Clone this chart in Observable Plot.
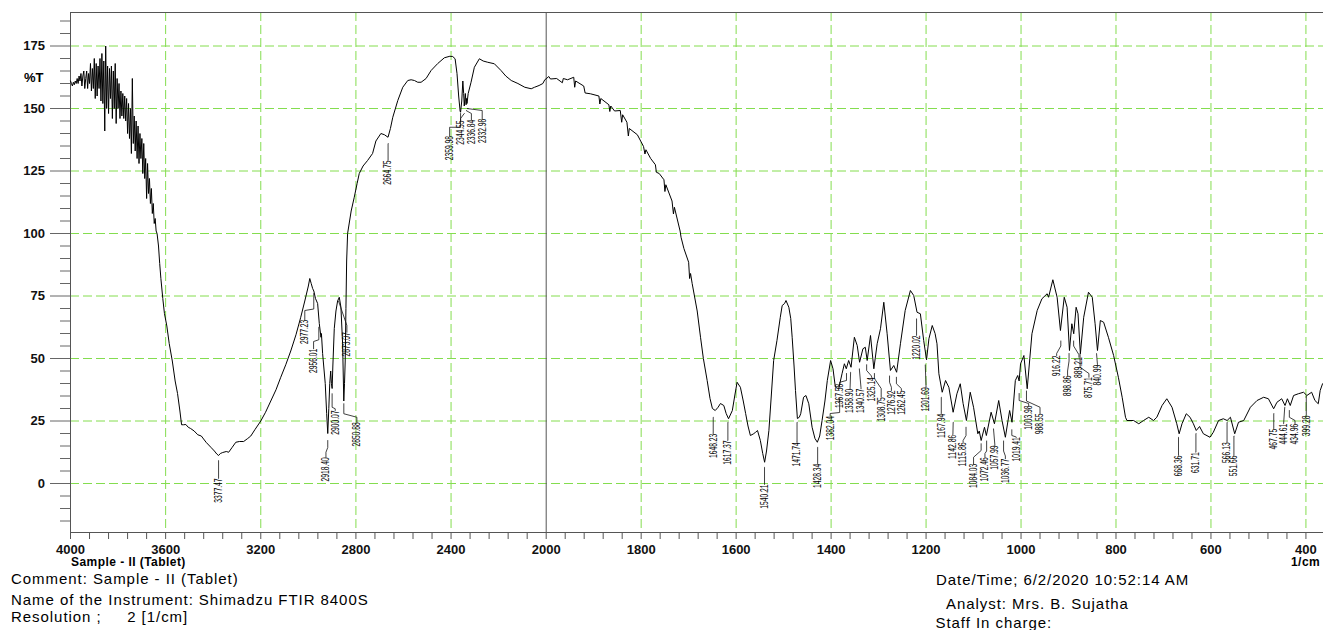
<!DOCTYPE html>
<html>
<head>
<meta charset="utf-8">
<script src="https://cdn.jsdelivr.net/npm/d3@7"></script>
<script src="https://cdn.jsdelivr.net/npm/@observablehq/plot@0.6"></script>
<style>
  html, body { margin: 0; padding: 0; background: #fff; }
  #wrap { position: relative; width: 1323px; height: 630px; overflow: hidden; font-family: "Liberation Sans", Arial, sans-serif; color: #000; }
  #wrap svg { position: absolute; left: 0; top: 0; }
  .ann { position: absolute; white-space: pre; }
  .foot { font-size: 15px; letter-spacing: 0.95px; line-height: 12px; }
  .axl { font-size: 12px; font-weight: bold; letter-spacing: 0.45px; line-height: 10px; }
</style>
</head>
<body>
<div id="wrap"></div>
<script>
// ---------------- DATA ----------------
// FTIR spectrum: wavenumber (1/cm) and transmittance (%T)
const specWn = [
  4000,3996,3992,3988,3984,3980,3976,3972,3968,3964,3960,3956,3952,3948,3944,3940,3936,3932,3928,3924,
  3920,3916,3912,3908,3904,3900,3896,3892,3888,3884,3880,3876,3872,3868,3864,3860,3856,3852,3848,3844,
  3840,3836,3832,3828,3824,3820,3816,3812,3808,3804,3800,3796,3792,3788,3784,3780,3776,3772,3768,3764,
  3760,3756,3752,3748,3744,3740,3736,3732,3728,3724,3720,3716,3712,3708,3704,3700,3696,3692,3688,3684,
  3680,3676,3672,3668,3664,3660,3656,3652,3648,3644,3640,
  3636,3630,3625,3620,3612,3605,3595,3585,3572,3560,3550,3540,3533,3525,3515,3505,3495,3480,3465,3450,
  3430,3410,3395,3385,3377.5,3370,3360,3345,3335,3320,3305,3290,3272,3255,3242,3225,3200,3180,3158,3136,
  3116,3095,3074,3052,3032,3015,3000,2994,2988,2982,2977,2970,2961,2954,2947,2945,2940,2929,2923,2918.4,
  2914,2910,2906,2903,2900,2897,2891,2884,2877,2870,2863,2856,2851,2848,2845,2842,2839,2835,2820,2807,
  2795,2786,2770,2751,2730,2716,2695,2680,2665,2655,2645,2624,2603,2582,2568,2554,2540,2526,2505,2484,
  2456,2428,2405,2393,2383,2375,2368,2362,2360,2355,2350.5,2347,2344.5,2340,2336.8,2335,2333,2328,2316,2302,
  2281,2265,2246,2218,2190,2170,2147,2119,2090,2063,2049,2030,2014,2006,
  2000,1994.5,1991,1978,1966,1964,1955,1942,1940,1938,1921,1918,1907,1889,1887,1885,1868,1866,1864,1856,
  1844,1841,1839,1830,1827,1825,1808,1795,1792,1790,1780,1770,1768,1762,1752,1750,1748,1735,1732,1730,
  1718,1716,1710,1700,1698,1696,1692.6,1682,1675,1669,1661,1655,1650,1644,1638,1633,1626,1621,1616,1608,
  1603,1598,1591,1585,1580,1575,1570,1564,1559,1555,1549,1544,1540,1536,1531,1526,1521,1514,1507,1503,
  1498,1495,1489,1485,1482,1478,1475,1471,1467,1464,1458,1453,1447,1440,1434,1429,1424,1419,1413,1408,
  1401,1396,1391,1384,1377,1372,1368,1363,1358,1351,1345,1340,1333,1328,1324,1317,1310,1303,1296,1289,
  1282,1275,1268,1262,1254,1244,1233,1226,1219,1212,1205,1199,1194,1187,1181,1177,1173,1166,1159,1152,
  1143,1135,1128,1122,1115,1107,1100,1091,1088,1084,1077,1073,1063,1056,1047,1040,1033,1024,1019,1012,
  1007,1004,1001,994,987,977,966,956,945,942,933,924,917,909,903,898,893,889,884,880,
  875,868,858,850,844,839,833,826,816,805,795,787,780,777,763,752,742,731,721,714,
  703,693,682,672,667,661,652,644,637,631,624,616,602,595,584,574,566,559,550,542,
  531,517,503,489,479,468,461,451,444,439,433,426,416,405,398,388,381,374,370,365
];
const specT = [
  161,160,159,160.5,159.5,161,160,162,160,163,161,164,159,163,165,158,162,165,158,164,
  160,168,157,166,158,170,154,168,155,167,158,170,153,172,152,169,141,175,150,167,
  148,166,154,167,146,165,150,168,144,162,150,160,146,157,147,156,146,155,145,154,
  140,152,138,150,132,162,136,147,133,145,130,143,128,140,130,138,124,136,122,130,
  114,128,116,122,112,118,108,112,104,106,101,
  100,95,88,82,74,68,63,56,49,41,36,29,23.5,23.5,23.6,22.5,22,21,19.5,19,
  16.5,14.5,13,11.8,11.2,12,12.4,12.8,12.5,14.5,16.5,16.8,16.8,18,19,21.5,25,28.5,33,37.5,
  42.5,47.5,53,59.5,66.5,73,79,82,80,78,77,74,72,64,58.5,60,52,40,28,20,
  30,40,45,40,38,47,62,69,73,74.5,70.5,56,33,40,49,70,89,100,109,114.5,
  120,124,127,129.2,132,137,140,139.5,138.5,142,146.5,153.2,158.5,161.2,161.5,161.2,160.5,160.5,162,165.2,
  168,170.3,170.9,170.8,169.9,164,155,149,148.5,153,161,156,151,156,151.5,154,152,156,160.5,166.5,
  169.9,169,168.5,167.9,165.2,163,161.2,160,158.5,157.9,158.5,159.2,160,161.5,
  161.9,162.8,161.8,162,160.3,162,161.5,162.5,158.5,161,159,156.2,155.9,155,151.8,154,151.5,148.8,151,149,
  149.2,144.5,147.5,144.5,139,142,139.5,134.8,131.8,133.5,130,127.5,124.5,124,121.5,116.8,119.5,113,107.8,110.5,
  101,98.5,94,88.5,82,84,80,69,58.5,50,41.2,34,30,29.2,30.5,32,31.2,28,25.9,29.2,
  35,40.5,38.5,33,28,23,19.2,19.8,20.5,21.2,17.2,12,8.5,13,21.2,35,49.2,57.2,66.5,71.2,
  72,73.2,70.5,66,58.5,47,37.2,26,26.5,27.9,34.5,35.2,31.9,22.5,18,16.5,19,25.2,33,41.2,
  49.2,45.9,38.5,37.9,43.9,47.9,45.9,49.2,46.5,58.5,55.2,48.5,53.9,54.5,49.2,59.2,45.9,55.9,61.9,72.5,
  59.9,45.2,47.2,44.5,55.9,69.2,77.2,75.2,68.5,67.9,57.2,49.5,57.9,63.2,60,55.9,43.9,36.5,41.2,38.5,
  28.5,35.9,39.9,32,25.2,36.5,30.5,19.9,21,17.2,22.5,19.2,28.5,23.9,33.2,25.2,18.5,29.2,24.5,41.2,
  43.2,41,47.9,51.2,37.9,59.9,69.2,73.9,75.9,74.5,81.5,74.5,61.2,74.5,70.5,53.2,63.9,59.9,70.5,67.9,
  51.9,66.5,76.5,74.5,63.9,53.2,65.2,64.5,58.5,51.2,42.5,34.5,26.5,25.2,25.2,23.9,25.2,26.5,25.2,26.5,
  31.2,33.9,30.5,23.9,19.9,23.9,27.9,26.5,23.9,21.2,22.8,19.9,18.5,20.5,25.2,25.9,25.2,26.5,19.9,24.5,
  25.2,30.5,33.2,34.5,33.9,29.9,32.5,33.9,31.2,33.9,31.2,35.2,35.9,36.5,35.2,36.5,33.2,31.9,37.2,39.9
];

// Peak annotations: peak wavenumber, label position, leader line bends, label top
const peakWn  = [3377.47,2977.23,2956.01,2918.40,2900.07,2873.07,2850.88,2664.75,2359.98,2344.55,2336.84,2332.98,
                 1648.23,1617.37,1540.21,1471.74,1428.34,1382.04,1367.58,1358.90,1340.57,1325.14,1308.75,1276.92,1262.45,
                 1220.02,1201.69,1167.94,1142.86,1115.86,1084.03,1072.46,1057.99,1036.77,1019.41,1003.98,988.55,
                 916.22,898.86,889.21,875.71,840.99,668.36,631.71,566.13,551.66,467.75,444.61,434.96,399.28];
const labelWn = [3377.47,3015,2978,2926,2887,2838,2796,2664.75,2406,2360,2314.5,2269,
                 1648.23,1617.37,1540.21,1471.74,1428.34,1402,1382,1360,1337,1315,1294.5,1273,1252,
                 1220.02,1200,1167.94,1143.5,1122,1100,1076,1055,1033,1010,984,960,
                 925,902,878,857,839,668.36,631.71,566.13,551.66,467.75,447,423,399.28];
const leadTop = [9.2,76,62.5,17.2,35.9,73,31.9,136,148,148,149.2,150,
                 26.5,24.5,6.5,24.5,14.5,34,44,44.5,45.9,47.5,44,43,42.5,
                 65.9,47.5,34.5,24.5,22.5,15.9,17,21.9,17,21.5,36,37,
                 57,52,57,51.9,52,18.5,20,24.5,19,28,30.5,29.2,35];
const bendA   = [9.2,69.8,57.5,14.4,30.5,73,27.9,136,142.5,148,149.2,150,
                 26.5,24.5,6.5,24.5,14.5,28.4,41.2,44.5,45.9,45.2,42,40.5,39.9,
                 65.9,47.5,34.5,24.5,19.2,13.2,13,21.9,13,19.2,33.2,33,
                 55,49,55,46.5,52,18.5,20,24.5,19,28,30.5,26.5,35];
const bendB   = [2,69.2,56.8,12.5,29.9,63.2,26.5,129.2,142.5,146,148,149.2,
                 19.9,17.2,-0.4,16.5,7.9,28,40.5,38.3,38.3,43,38,38.5,38,
                 59.2,38.5,27.9,19.5,17.2,10.5,12,15.2,11,18.6,32,30.5,
                 52,45,51.5,44,47.5,11.2,12.5,16.5,11.2,21.9,23.9,25.2,27.2];
const textTop = [2,65.5,53.9,10.5,29.2,60.5,24.5,129.2,139,145.2,145.5,145.9,
                 19.9,17.2,-0.4,16.5,7.9,27,39.9,37.9,37.9,42.5,34.5,37.2,37.2,
                 59.2,38.5,27.9,19.5,16.5,7.9,10.5,15.2,9.9,18.5,31.2,28,
                 51.2,43.2,50.5,42.5,47.5,11.2,12.5,16.5,11.2,21.9,23.9,23.9,27.2];

// Axis ticks
const xMajorTicks = [4000,3600,3200,2800,2400,2000,1800,1600,1400,1200,1000,800,600,400];
const xGridTicks  = [3600,3200,2800,2400,1800,1600,1400,1200,1000,800,600,400];
const xMinorTicks = d3.range(4000, 2000, -80).filter(v => v % 400 !== 0)
  .concat(d3.range(2000, 363, -40).filter(v => v % 200 !== 0));
const yMajorTicks = [0,25,50,75,100,125,150,175];
const yMinorTicks = d3.range(-15, 186, 5).filter(v => v % 25 !== 0);

const xDomain = [4000, 2000, 363];   // scale changes at 2000 1/cm
const yDomain = [-19.6, 188.4];

// ---------------- CHART ----------------
const GREEN = "#84dd4f";
const spec = specWn.map((w, i) => ({w, t: specT[i]}));
const leaders = peakWn.flatMap((p, i) => [
  {id: i, x: p, y: leadTop[i]},
  {id: i, x: p, y: bendA[i]},
  {id: i, x: labelWn[i], y: bendB[i]},
  {id: i, x: labelWn[i], y: textTop[i]}
]);
const labels = peakWn.map((p, i) => ({x: labelWn[i], y: textTop[i], text: p.toFixed(2)}));

const chart = Plot.plot({
  width: 1323,
  height: 630,
  marginTop: 12,
  marginRight: 0,
  marginBottom: 98,
  marginLeft: 70,
  style: {fontFamily: '"Liberation Sans", Arial, sans-serif', fontSize: "13px", background: "#fff", color: "#000"},
  x: {type: "linear", domain: xDomain, range: [70, 545.7, 1323]},
  y: {domain: yDomain},
  marks: [
    Plot.gridY(yMajorTicks, {stroke: GREEN, strokeOpacity: 1, strokeWidth: 1, strokeDasharray: "9,4"}),
    Plot.gridX(xGridTicks, {stroke: GREEN, strokeOpacity: 1, strokeWidth: 1, strokeDasharray: "9,4"}),
    Plot.ruleX([xDomain[0], xDomain[1]], {stroke: "#555", strokeWidth: 1}),
    Plot.ruleY([yDomain[0], yDomain[1]], {stroke: "#555", strokeWidth: 1}),
    Plot.axisY(yMinorTicks, {tickSize: 10, tickFormat: () => "", label: null, stroke: "#666"}),
    Plot.axisY(yMajorTicks, {tickSize: 20, tickPadding: 5.5, label: null, stroke: "#666", fill: "#111",
      fontWeight: "bold", fontSize: 13, tickFormat: d => String(d)}),
    Plot.axisX(xMinorTicks, {tickSize: 7, tickFormat: () => "", label: null, stroke: "#555"}),
    Plot.axisX(xMajorTicks, {tickSize: 7, tickPadding: 5, label: null, stroke: "#555", fill: "#111",
      fontWeight: "bold", fontSize: 13, tickFormat: d => String(d)}),
    Plot.line(spec, {x: "w", y: "t", stroke: "#000", strokeWidth: 1}),
    Plot.line(leaders, {x: "x", y: "y", z: "id", stroke: "#111", strokeWidth: 0.8}),
    Plot.text(labels, {x: "x", y: "y", text: "text", rotate: -90, textAnchor: "end",
      fontSize: 10.5, fontFamily: '"Liberation Sans Narrow", "Liberation Sans", Arial, sans-serif',
      fill: "#000", ariaLabel: "peak-labels"})
  ]
});

// compress the peak labels to the narrow look of the instrument print
const peakRe = /^\d{3,4}\.\d{2}$/;
chart.querySelectorAll("text").forEach(t => {
  const s = t.textContent.trim();
  if (!peakRe.test(s)) return;
  t.setAttribute("textLength", (s.length * 3.45).toFixed(1));
  t.setAttribute("lengthAdjust", "spacingAndGlyphs");
  t.querySelectorAll("tspan").forEach(ts => {
    ts.setAttribute("textLength", (s.length * 3.45).toFixed(1));
    ts.setAttribute("lengthAdjust", "spacingAndGlyphs");
  });
});

const wrap = document.getElementById("wrap");
wrap.appendChild(chart);

// ---------------- TEXT AROUND THE CHART ----------------
// y values are the tops of the text boxes
const notes = [
  {t: "%T", x: 24, y: 70.6, cls: "", style: "font-size:13px;font-weight:bold;line-height:13px;"},
  {t: "Sample - II (Tablet)", x: 71, y: 557, cls: "axl", style: ""},
  {t: "1/cm", x: 1291, y: 557, cls: "axl", style: ""},
  {t: "Comment: Sample - II (Tablet)", x: 11, y: 572.5, cls: "foot", style: ""},
  {t: "Name of the Instrument: Shimadzu FTIR 8400S", x: 11, y: 593.7, cls: "foot", style: ""},
  {t: "Resolution ;     2 [1/cm]", x: 11, y: 610.7, cls: "foot", style: ""},
  {t: "Date/Time; 6/2/2020 10:52:14 AM", x: 936, y: 574.2, cls: "foot", style: ""},
  {t: "Analyst: Mrs. B. Sujatha", x: 946, y: 597.5, cls: "foot", style: ""},
  {t: "Staff In charge:", x: 935.5, y: 617, cls: "foot", style: ""}
];
for (const n of notes) {
  const d = document.createElement("div");
  d.className = "ann " + n.cls;
  d.textContent = n.t;
  d.style.cssText += `left:${n.x}px;top:${n.y}px;` + n.style;
  wrap.appendChild(d);
}
</script>
</body>
</html>
